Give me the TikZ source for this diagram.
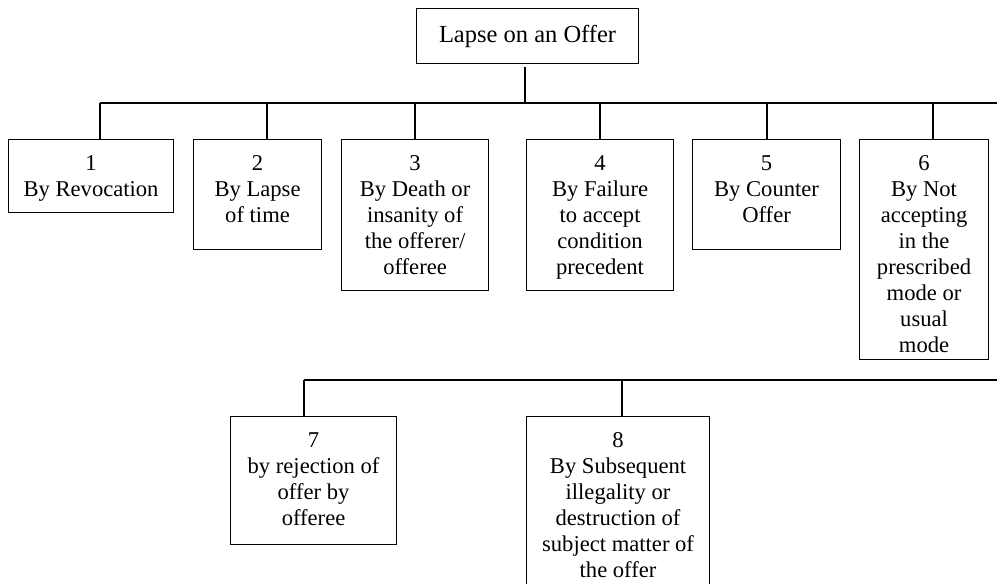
\documentclass[tikz,border=0pt]{standalone}
\usepackage{fontspec}
\setmainfont{Liberation Serif}
\begin{document}
\begin{tikzpicture}[x=1pt, y=-1pt,
  box/.style={draw=black, line width=1.1pt, anchor=north west, inner sep=0pt},
  lbl/.style={anchor=north, align=center, inner sep=0pt,
    font=\fontsize{22.6}{26}\selectfont},
  link/.style={draw=black, line width=1.1pt}]
\useasboundingbox (0,0) rectangle (997,584);
\begin{scope}
\clip (0,0) rectangle (997,584);

% root
\node[box, minimum width=222pt, minimum height=55pt,
  font=\fontsize{24.5}{29}\selectfont] (root) at (416,8) {Lapse on an Offer};

% first row of boxes
\node[box, minimum width=165pt, minimum height=73pt]  (b1) at (8,139) {};
\node[box, minimum width=128pt, minimum height=110pt] (b2) at (193,139) {};
\node[box, minimum width=147pt, minimum height=151pt] (b3) at (341,139) {};
\node[box, minimum width=147pt, minimum height=151pt] (b4) at (526,139) {};
\node[box, minimum width=148pt, minimum height=110pt] (b5) at (692,139) {};
\node[box, minimum width=129pt, minimum height=220pt] (b6) at (859,139) {};

% second row of boxes
\node[box, minimum width=166pt, minimum height=128pt] (b7) at (230,416) {};
\node[box, minimum width=183pt, minimum height=200pt] (b8) at (526,416) {};

% box texts
\node[lbl] (t1) at ([yshift=-12.8pt]b1.north) {\strut 1\\By Revocation};
\node[lbl] (t2) at ([yshift=-12.8pt]b2.north) {\strut 2\\By Lapse\\of time};
\node[lbl] (t3) at ([yshift=-12.8pt]b3.north) {\strut 3\\By Death or\\insanity of\\the offerer/\\offeree};
\node[lbl] (t4) at ([yshift=-12.8pt]b4.north) {\strut 4\\By Failure\\to accept\\condition\\precedent};
\node[lbl] (t5) at ([yshift=-12.8pt]b5.north) {\strut 5\\By Counter\\Offer};
\node[lbl] (t6) at ([yshift=-12.8pt]b6.north) {\strut 6\\By Not\\accepting\\in the\\prescribed\\mode or\\usual\\mode};
\node[lbl] (t7) at ([yshift=-12.8pt]b7.north) {\strut 7\\by rejection of\\offer by\\offeree};
\node[lbl] (t8) at ([yshift=-12.8pt]b8.north) {\strut 8\\By Subsequent\\illegality or\\destruction of\\subject matter of\\the offer};

% junction points on the buses
\coordinate (rj) at (525,103);
\coordinate (j1) at (100,103);
\coordinate (j2) at (267,103);
\coordinate (j3) at (415,103);
\coordinate (j4) at (600,103);
\coordinate (j5) at (767,103);
\coordinate (j6) at (933,103);
\coordinate (busend) at (997,103);
\coordinate (j7) at (304,380);
\coordinate (j8) at (622,380);
\coordinate (bus2end) at (997,380);

% buses
\draw[link] (j1) -- (busend);
\draw[link] (j7) -- (bus2end);

% stems
\draw[link] ([yshift=-3pt]root.south -| rj) -- (rj);
\foreach \i in {1,...,8}
  \draw[link] (j\i) -- (j\i |- b\i.north);
\end{scope}
\end{tikzpicture}
\end{document}
